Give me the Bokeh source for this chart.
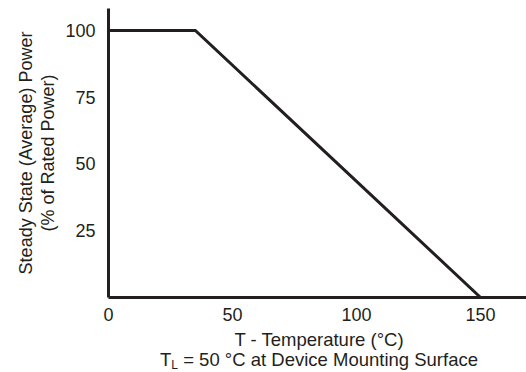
from bokeh.plotting import figure
from bokeh.models import Range1d, FixedTicker, Div
from bokeh.layouts import column
from bokeh.embed import file_html
from bokeh.resources import INLINE

# data
temperature = [0, 35, 150]
power = [100, 100, 0]
x_ticks = [0, 50, 100, 150]
y_ticks = [25, 50, 75, 100]
y_title = "Steady State (Average) Power\n(% of Rated Power)"
x_title = "T - Temperature (°C)"
x_note = "= 50 °C at Device Mounting Surface"

INK = "#231f20"
FONT = "Liberation Sans"

p = figure(width=526, height=330, output_backend="svg", toolbar_location=None,
           x_range=Range1d(0, 168.5), y_range=Range1d(0, 108.2),
           min_border_left=108, min_border_right=0, min_border_top=8, min_border_bottom=33)
p.outline_line_color = None
p.xgrid.visible = False
p.ygrid.visible = False
p.background_fill_color = "white"
p.border_fill_color = "white"

p.line(temperature, power, line_width=3, line_color=INK, line_join="miter")

for ax, ticks, standoff in ((p.xaxis, x_ticks, 4), (p.yaxis, y_ticks, 7)):
    ax.ticker = FixedTicker(ticks=ticks)
    ax.major_tick_line_color = None
    ax.minor_tick_line_color = None
    ax.axis_line_color = INK
    ax.axis_line_width = 3
    ax.major_label_text_font = FONT
    ax.major_label_text_font_size = "18px"
    ax.major_label_text_color = INK
    ax.major_label_standoff = standoff

p.yaxis.axis_label = y_title
p.yaxis.axis_label_text_font = FONT
p.yaxis.axis_label_text_font_size = "18px"
p.yaxis.axis_label_text_font_style = "normal"
p.yaxis.axis_label_text_color = INK
p.yaxis.axis_label_text_line_height = 1.1
p.yaxis.axis_label_standoff = 4

note = Div(width=526, height=42, text=(
    f'<div style="width:418px;margin-left:105px;margin-top:-5px;text-align:center;'
    f'font-family:\'{FONT}\';font-size:18.5px;line-height:20px;color:{INK};white-space:nowrap">'
    f'{x_title}<br>T<sub style="font-size:12px;line-height:0;vertical-align:-3px">L</sub> {x_note}</div>'))

layout = column(p, note, spacing=0)
open("out.html", "w").write(file_html(layout, INLINE))
